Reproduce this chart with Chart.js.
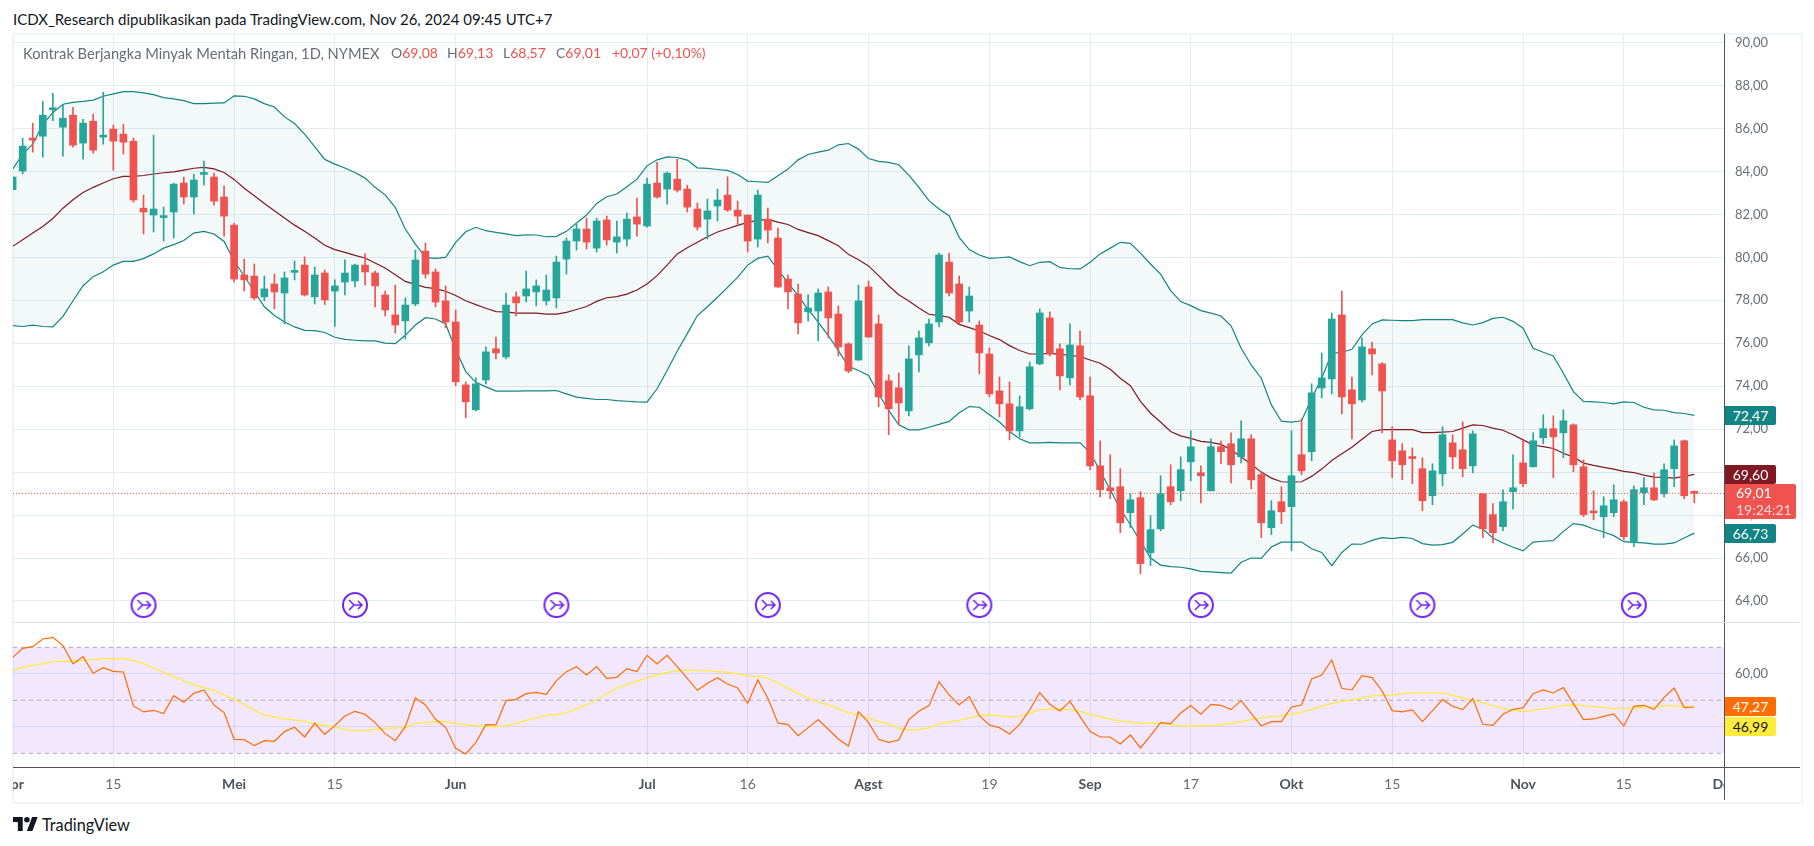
<!DOCTYPE html>
<html>
<head>
<meta charset="utf-8">
<title>Kontrak Berjangka Minyak Mentah Ringan</title>
<script src="https://cdn.jsdelivr.net/npm/chart.js@4"></script>
<style>
    html, body { margin: 0; background: #fff; }
    body { width: 1814px; height: 846px; position: relative; overflow: hidden; font-family: Lato, sans-serif; }
    canvas { position: absolute; display: block; }
    .frame { position: absolute; left: 12px; top: 33px; width: 1787px; height: 767px; border: 2px solid #f0f3fa; }
    .head { position: absolute; left: 13px; top: 10px; font-size: 15px; color: #131722; white-space: nowrap; }
    .leg { position: absolute; top: 44px; font-size: 14px; color: #6a6d78; white-space: nowrap; }
    .leg b { font-weight: normal; color: #ef5350; }
    .sep { position: absolute; left: 13px; top: 622px; width: 1787px; height: 1px; background: #e0e3eb; }
    .base { position: absolute; left: 13px; top: 767px; width: 1787px; height: 1px; background: #50535e; }
    .deCover { position: absolute; left: 1724px; top: 768px; width: 40px; height: 32px; background: #fff; border-left: 1px solid #50535e; }
    .badge { position: absolute; left: 1725px; width: 51px; height: 19px; line-height: 19px; font-size: 14px; text-align: center; color: #fff; border-radius: 0 2px 2px 0; }
    .logo { position: absolute; left: 13px; top: 817px; }
    .logoText { position: absolute; left: 42px; top: 815px; font-size: 16.3px; color: #131722; }
</style>
</head>
<body>
<div class="frame"></div>
<div class="head">ICDX_Research dipublikasikan pada TradingView.com, Nov 26, 2024 09:45 UTC+7</div>
<canvas id="priceChart" width="1788" height="588" style="left:13px;top:34px"></canvas>
<canvas id="rsiChart" width="1788" height="178" style="left:13px;top:622px"></canvas>
<div class="sep"></div>
<div class="base"></div>
<div class="deCover"></div>
<div class="leg" style="left:23px;font-size:14.7px;top:43.5px">Kontrak Berjangka Minyak Mentah Ringan, 1D, NYMEX</div>
<div class="leg" style="left:391px">O<b>69,08</b></div>
<div class="leg" style="left:447px">H<b>69,13</b></div>
<div class="leg" style="left:503px">L<b>68,57</b></div>
<div class="leg" style="left:556px">C<b>69,01</b></div>
<div class="leg" style="left:612px"><b>+0,07 (+0,10%)</b></div>
<svg class="logo" width="25" height="14" viewBox="0 0 36 20"><path fill="#131722" d="M14 20H7V7H0V0h14v20zM28 20h-8l7.5-20h8L28 20z"/><circle fill="#131722" cx="20" cy="4" r="4"/></svg>
<div class="logoText">TradingView</div>

<script>
const openPrices = [
    83.15,84.02,85.5,85.64,86.87,86.06,86.62,85.32,86.34,85.6,
    85.97,85.74,85.41,82.29,81.97,81.85,82.11,83.46,82.81,83.86,
    83.74,82.81,81.5,79.18,79.13,78.16,78.76,78.34,79.3,79.64,
    78.16,79.27,78.43,78.85,78.9,79.64,79.27,78.25,77.32,77.04,
    77.83,80.29,79.32,77.97,76.99,74.06,72.9,74.29,75.74,75.36,
    78.16,78.2,78.39,77.97,78.11,79.92,80.76,81.32,80.43,81.74,
    80.71,80.85,81.88,81.46,83.46,83.18,83.64,83.18,82.25,81.78,
    82.39,82.9,82.2,81.97,80.85,81.78,80.9,78.99,78.29,77.46,
    77.5,78.39,77.36,75.97,75.22,78.62,76.9,74.25,73.92,72.85,
    75.46,76.02,76.99,79.78,78.76,77.5,76.85,75.5,73.78,73.18,
    71.92,72.95,75.04,77.18,75.74,74.39,75.88,73.55,70.29,69.27,
    69.32,68.11,68.81,66.25,67.36,69.32,69.13,70.48,69.97,69.13,
    71.18,71.32,70.71,71.55,69.88,67.41,68.62,68.39,70.81,70.95,
    73.92,74.34,77.32,73.83,73.36,75.74,75.04,71.5,70.99,70.67,
    70.16,68.9,69.92,71.36,71.04,70.29,68.99,68.02,67.46,69.09,
    70.43,70.25,71.6,72.02,71.83,72.2,70.25,68.14,67.92,68.11,
    68.62,66.71,69.04,69.27,68.99,70.16,71.46,69.08
]
const closePrices = [
    83.74,85.18,85.46,86.62,86.93,86.48,85.22,86.25,84.99,85.68,
    85.41,85.36,82.67,82.11,82.25,81.88,83.41,82.81,83.6,83.9,
    82.62,81.92,78.99,78.95,78.11,78.53,78.39,79.04,79.33,78.25,
    79.18,78.02,78.67,79.27,79.64,79.32,78.67,77.55,76.85,77.78,
    79.88,79.22,77.92,76.99,74.2,73.27,74.11,75.6,75.55,77.78,
    77.88,78.53,78.67,78.48,79.78,80.76,81.32,80.71,81.69,80.81,
    80.95,81.78,81.55,83.41,82.81,83.92,83.13,82.34,81.41,82.16,
    82.67,82.2,81.92,80.76,82.9,81.27,78.62,78.39,76.95,77.64,
    78.34,77.18,75.83,74.71,77.97,76.29,73.5,72.95,73.22,75.27,
    76.25,76.9,80.11,78.34,76.99,78.2,75.55,73.64,73.18,71.92,
    73.04,74.9,77.41,75.5,74.48,75.92,73.5,70.29,69.18,69.13,
    67.64,68.71,65.74,67.32,68.99,68.62,70.11,71.18,69.83,71.18,
    70.95,70.34,71.55,69.64,67.64,68.2,68.15,69.83,70.06,73.69,
    74.39,77.13,73.5,73.18,75.83,75.5,73.78,70.53,70.34,70.63,
    68.67,70.06,71.74,70.71,70.16,71.78,67.36,67.18,68.62,69.27,
    69.46,71.46,72.02,71.64,72.39,70.34,68.02,68.1,68.43,68.71,
    66.99,69.18,69.27,68.71,70.11,71.22,68.9,69.01
]
const highPrices = [
    83.74,85.55,86.25,87.27,87.64,87.13,86.99,86.43,86.67,87.69,
    86.16,86.2,85.55,82.9,85.69,82.34,83.46,83.74,83.88,84.48,
    83.92,83.32,81.6,79.92,79.69,79.13,79.22,79.32,79.83,80.02,
    79.55,79.41,78.95,79.88,79.69,80.16,79.36,78.43,78.71,78.11,
    80.34,80.67,79.46,78.67,77.55,74.2,74.39,75.83,76.29,78.34,
    78.39,79.36,78.95,79.18,80.06,80.9,81.55,81.83,81.83,81.92,
    81.69,82.06,82.76,83.69,84.43,83.97,84.57,83.36,82.53,82.71,
    83.18,83.75,82.62,81.97,83.13,82.29,81.36,79.18,78.76,78.25,
    78.53,78.62,77.74,76.02,78.71,78.9,77.32,74.53,74.62,75.88,
    76.57,77.13,80.2,80.2,79.13,78.62,77.04,75.78,74.43,74.2,
    73.55,75.13,77.6,77.46,75.97,76.9,76.57,74.43,71.46,70.81,
    70.16,68.99,69.09,67.97,69.83,70.34,70.71,71.92,70.29,71.55,
    71.46,71.83,72.39,71.74,70.02,68.67,69.32,71.92,72.48,74.11,
    75.55,77.41,78.43,74.43,76.25,76.06,75.1,72.11,71.32,71.13,
    70.67,70.39,72.11,71.74,72.34,71.92,69.0,68.53,69.18,70.81,
    71.5,71.83,72.67,72.62,72.9,72.25,70.57,69.13,68.85,69.41,
    68.71,69.36,69.74,69.97,70.39,71.5,71.5,69.13
]
const lowPrices = [
    83.15,83.88,84.9,84.67,86.36,84.71,85.13,84.57,84.85,85.27,
    84.06,84.81,82.57,81.09,81.18,80.76,80.9,82.48,82.02,83.36,
    82.43,80.99,78.85,78.43,78.02,77.97,77.6,76.9,78.95,78.2,
    77.83,77.8,76.78,78.25,78.62,78.71,77.69,77.27,76.48,76.2,
    77.74,79.04,77.69,76.71,74.02,72.53,72.85,74.11,75.27,75.27,
    77.27,77.92,77.74,77.78,77.64,79.22,80.34,80.39,80.25,80.57,
    80.2,80.53,80.99,81.41,82.76,82.48,83.04,82.11,81.27,80.85,
    81.69,82.14,81.55,80.25,80.48,80.67,78.6,77.6,76.43,77.04,
    76.11,76.25,75.41,74.62,75.2,76.27,73.04,71.74,72.2,72.62,
    74.67,75.88,76.76,78.2,76.9,76.99,74.57,73.5,72.57,71.5,
    71.64,72.9,75.0,75.41,73.83,74.06,73.36,70.11,68.85,68.76,
    67.18,67.41,65.27,65.64,67.27,68.48,68.67,69.6,68.57,69.12,
    70.39,69.5,70.43,69.22,66.95,67.09,67.6,66.34,69.88,70.53,
    73.46,73.64,72.71,71.55,73.27,74.53,71.83,69.74,69.64,69.46,
    68.2,68.48,69.36,70.16,69.78,69.97,66.95,66.71,67.27,68.29,
    69.32,70.23,71.32,69.74,70.67,70.02,67.92,67.78,66.95,67.92,
    66.85,66.53,68.48,68.67,68.85,69.32,68.76,68.57
]
const bbUpper = [
    84.11,84.81,85.27,86.2,86.74,87.13,87.22,87.26,87.32,87.5,
    87.61,87.72,87.72,87.66,87.58,87.44,87.38,87.3,87.16,87.16,
    87.18,87.19,87.52,87.5,87.38,87.16,87.0,86.54,86.23,85.74,
    85.15,84.56,84.34,84.16,83.95,83.69,83.26,82.91,82.33,81.32,
    80.62,80.0,79.95,80.0,80.7,81.19,81.4,81.24,81.16,81.09,
    81.01,81.05,81.04,80.96,80.98,81.21,81.6,81.97,82.51,82.82,
    82.95,83.29,83.64,84.26,84.54,84.68,84.65,84.53,84.17,84.14,
    84.09,84.05,83.86,83.55,83.52,83.49,83.8,84.11,84.54,84.79,
    84.9,84.99,85.24,85.3,85.04,84.6,84.47,84.42,84.31,83.83,
    83.26,82.64,82.25,81.94,80.93,80.36,80.11,79.95,79.98,80.02,
    79.8,79.61,79.77,79.8,79.53,79.47,79.46,79.77,80.16,80.43,
    80.7,80.65,80.2,79.69,79.22,78.45,77.94,77.75,77.52,77.4,
    77.27,76.81,75.77,74.99,74.37,73.13,72.37,72.33,72.39,73.44,
    74.37,75.53,75.58,75.72,76.39,76.9,77.09,77.07,77.05,77.05,
    77.1,77.1,77.1,77.1,76.95,76.85,76.96,77.16,77.21,77.02,
    76.7,75.77,75.58,75.41,74.6,73.75,73.29,73.27,73.24,73.18,
    73.27,73.24,73.02,72.9,72.88,72.77,72.73,72.64
]
const bbBasis = [
    80.51,80.82,81.13,81.44,81.81,82.29,82.68,83.02,83.26,83.46,
    83.66,83.77,83.77,83.81,83.88,83.94,83.98,84.06,84.15,84.19,
    84.12,83.95,83.63,83.22,82.87,82.51,82.17,81.83,81.5,81.21,
    80.9,80.56,80.36,80.23,80.09,79.97,79.74,79.5,79.19,78.88,
    78.74,78.6,78.54,78.42,78.22,77.98,77.8,77.63,77.47,77.46,
    77.4,77.4,77.4,77.36,77.36,77.44,77.57,77.71,77.95,78.12,
    78.17,78.29,78.48,78.76,79.15,79.64,80.16,80.45,80.7,80.96,
    81.18,81.33,81.49,81.63,81.72,81.77,81.64,81.53,81.3,81.15,
    81.01,80.78,80.54,80.14,79.89,79.6,79.15,78.68,78.26,77.97,
    77.64,77.35,77.29,77.21,76.88,76.73,76.57,76.36,76.17,75.89,
    75.66,75.5,75.5,75.53,75.49,75.43,75.38,75.22,75.07,74.79,
    74.37,74.02,73.29,72.74,72.33,71.89,71.69,71.57,71.43,71.38,
    71.29,71.04,70.7,70.37,70.0,69.72,69.55,69.53,69.55,69.8,
    70.14,70.54,70.85,71.16,71.53,71.89,71.98,71.98,71.98,71.98,
    71.84,71.84,71.86,71.89,72.05,72.2,72.17,72.05,71.95,71.74,
    71.5,71.26,71.19,71.1,70.88,70.7,70.42,70.31,70.22,70.14,
    70.03,69.98,69.86,69.77,69.75,69.72,69.8,69.89
]
const bbLower = [
    76.82,76.78,76.84,76.78,76.76,77.25,77.98,78.68,79.1,79.33,
    79.64,79.81,79.81,79.94,80.16,80.43,80.59,80.78,81.13,81.21,
    81.09,80.74,79.84,79.12,78.42,77.7,77.29,76.99,76.76,76.6,
    76.59,76.5,76.28,76.18,76.14,76.11,76.11,76.01,75.98,76.37,
    76.85,77.19,77.13,76.9,75.7,74.68,74.18,73.97,73.77,73.77,
    73.77,73.78,73.78,73.78,73.8,73.64,73.49,73.43,73.38,73.38,
    73.33,73.3,73.27,73.26,73.88,74.73,75.63,76.45,77.29,77.7,
    78.14,78.6,79.07,79.64,79.95,80.06,79.43,78.81,78.22,77.57,
    76.98,76.36,75.66,74.93,74.73,74.5,73.64,72.87,72.2,71.97,
    71.97,72.09,72.22,72.36,72.76,73.05,73.02,72.67,72.33,71.89,
    71.55,71.36,71.36,71.38,71.36,71.36,71.36,70.91,70.05,69.18,
    68.28,67.55,66.78,66.0,65.67,65.6,65.57,65.49,65.38,65.35,
    65.32,65.3,65.8,66.0,65.98,66.51,66.74,66.74,66.74,66.43,
    66.26,65.64,66.26,66.65,66.64,66.82,66.95,66.9,66.96,66.91,
    66.67,66.6,66.62,66.73,67.12,67.53,67.35,66.93,66.7,66.5,
    66.33,66.74,66.78,66.81,67.24,67.6,67.53,67.35,67.21,67.04,
    66.76,66.73,66.7,66.65,66.65,66.7,66.93,67.16
]
const rsiValues = [
    66.1,69.62,70.25,73.14,73.77,70.63,63.71,66.48,60.19,62.33,
    60.94,60.69,47.86,45.6,46.23,44.97,51.76,49.25,52.64,53.9,
    48.24,45.35,35.28,35.16,32.89,34.78,34.53,38.18,39.81,36.16,
    41.32,37.17,40.44,44.09,45.85,44.72,41.57,37.42,34.78,40.06,
    50.88,48.24,42.83,39.81,31.89,29.75,34.03,40.82,40.69,49.87,
    50.38,52.52,53.02,52.26,57.42,60.82,62.7,59.56,62.7,58.3,
    58.68,61.95,60.82,66.98,63.71,66.98,62.7,58.3,53.77,56.42,
    58.55,56.16,54.65,48.87,57.67,50.75,41.45,40.82,36.67,39.69,
    42.7,39.06,35.41,32.77,45.72,41.57,35.28,34.15,35.03,42.7,
    45.85,47.99,57.04,52.01,48.24,51.38,44.21,40.69,39.69,37.3,
    40.94,46.35,52.89,48.49,45.97,49.62,43.84,38.18,36.16,36.16,
    33.52,36.92,32.01,36.67,41.57,41.19,45.22,47.99,44.72,48.49,
    48.11,46.48,49.87,45.09,40.31,41.95,41.95,47.48,48.24,58.05,
    59.56,65.22,54.53,53.9,59.31,58.55,53.52,46.1,45.6,46.35,
    41.95,46.1,50.25,47.74,46.48,50.63,40.94,40.57,44.72,46.6,
    47.11,52.52,53.9,52.77,54.78,48.74,42.7,42.96,43.96,44.84,
    40.31,47.74,48.11,46.6,51.13,54.65,47.23,47.48
]
const rsiMa = [
    61.07,62.45,63.21,63.84,64.59,64.72,64.84,65.09,65.35,65.72,
    65.72,65.72,64.97,63.84,62.2,60.57,58.93,57.3,55.79,54.78,
    53.77,52.01,50.38,48.36,46.35,44.47,43.71,42.96,42.58,42.08,
    41.32,40.57,40.06,38.93,38.68,38.68,39.06,39.43,39.56,39.69,
    41.07,41.7,41.82,41.95,41.32,40.82,40.44,40.06,40.06,40.31,
    41.32,42.45,43.33,44.34,44.59,45.35,46.73,48.24,50.13,52.39,
    54.65,55.91,57.17,58.55,59.56,60.57,61.07,61.45,61.19,61.07,
    60.82,60.57,59.94,59.18,58.93,58.3,56.54,54.53,52.64,50.88,
    49.37,48.24,46.86,45.22,44.47,43.33,42.08,41.07,39.56,38.68,
    39.06,39.56,41.07,41.82,42.45,43.33,44.21,44.47,44.09,43.84,
    43.96,45.09,46.35,46.6,46.73,46.35,45.85,44.72,43.84,42.83,
    42.2,41.82,41.32,41.32,41.32,40.82,40.44,40.31,40.31,40.44,
    40.69,41.32,42.08,42.7,43.33,43.71,44.09,44.84,45.47,46.6,
    47.74,48.87,49.62,50.13,50.88,51.64,51.89,52.01,52.39,52.77,
    52.77,52.77,52.77,51.89,51.01,50.0,49.12,47.99,46.98,46.23,
    45.72,46.23,46.73,47.23,48.11,48.36,47.86,47.61,47.36,46.98,
    46.98,46.98,47.48,47.61,47.86,47.99,47.61,47.48
]

const tickIndex = [0,10,22,32,44,63,73,85,97,107,117,127,137,150,160,170]
const tickLabels = ['Apr','15','Mei','15','Jun','Jul','16','Agst','19','Sep','17','Okt','15','Nov','15','Des']
const monthTicks = ['Apr','Mei','Jun','Jul','Agst','Sep','Okt','Nov','Des']
const priceTicks = [90,88,86,84,82,80,78,76,74,72,70,68,66,64]
const rsiTicks = [60,40]
const rsiLevels = [70,50,30]
const rollIndex = [13,34,54,75,96,118,140,161]
const rollLevel = 63.81

const minX = 0.04
const maxX = 169.95
const upColor = '#26a69a'
const downColor = '#ef5350'
const gridColor = '#e4ecf2'
const bandLine = '#138484'
const axisText = '#6a6d78'
const axisBorder = '#50535e'
const fontName = 'Lato'

Chart.defaults.font.family = fontName
Chart.defaults.animation = false

const comma = (v)=> Number(v).toFixed(2).replace('.', ',')
const series = (values)=> values.map((v, i)=> ({x: i, y: v}))
const flatLine = (v)=> [{x: minX, y: v}, {x: maxX, y: v}]
const noPadding = (s)=>{
    s.paddingTop = 0
    s.paddingBottom = 0
    s.paddingLeft = 0
    s.paddingRight = 0
}

const xAxis = (withLabels)=> ({
    type: 'linear',
    min: minX,
    max: maxX,
    offset: false,
    grid: {color: gridColor, drawTicks: false, offset: false},
    border: {display: false},
    afterBuildTicks: (s)=>{ s.ticks = tickIndex.map((v)=> ({value: v})) },
    afterFit: (s)=>{
        s.height = withLabels ? 33 : 0
        noPadding(s)
    },
    ticks: {
        display: withLabels,
        autoSkip: false,
        maxRotation: 0,
        padding: 9,
        color: (c)=> monthTicks.includes(tickLabels[c.index]) ? '#50535e' : axisText,
        font: (c)=> ({size: 14, weight: monthTicks.includes(tickLabels[c.index]) ? 'bold' : 'normal'}),
        callback: (v)=> tickLabels[tickIndex.indexOf(v)]
    }
})

const yAxis = (lo, hi, values)=> ({
    position: 'right',
    min: lo,
    max: hi,
    grid: {color: gridColor, drawTicks: false},
    border: {color: axisBorder, width: 1},
    afterBuildTicks: (s)=>{ s.ticks = values.map((v)=> ({value: v})) },
    afterFit: (s)=>{
        s.width = 77
        noPadding(s)
    },
    ticks: {autoSkip: false, padding: 11, color: axisText, font: {size: 13}, callback: (v)=> comma(v)}
})

// arrow marker for the contract roll events
const rollMarker = document.createElement('canvas')
rollMarker.width = 28
rollMarker.height = 28
let mk = rollMarker.getContext('2d')
mk.strokeStyle = '#7022f5'
mk.lineWidth = 2
mk.beginPath()
mk.arc(14, 14, 12, 0, Math.PI * 2)
mk.stroke()
mk.lineWidth = 1.6
mk.beginPath()
mk.moveTo(8, 9)
mk.lineTo(13, 14)
mk.lineTo(21, 14)
mk.moveTo(17, 10)
mk.lineTo(21, 14)
mk.lineTo(17, 18)
mk.moveTo(13, 14)
mk.lineTo(8, 19)
mk.stroke()

// a point dataset would pad the layout, so the markers go through the scales here
const rollPlugin = {
    id: 'rollMarkers',
    afterDatasetsDraw: (chart)=>{
        rollIndex.forEach((i)=>{
            let px = chart.scales.x.getPixelForValue(i)
            let py = chart.scales.y.getPixelForValue(rollLevel)
            chart.ctx.drawImage(rollMarker, px - 14, py - 14)
        })
    }
}

const bandLineSet = (label, values, color, order)=> ({
    type: 'line', label, data: series(values), borderColor: color, borderWidth: 1.2,
    pointRadius: 0, tension: 0, order, fill: false
})

let priceChart = new Chart(document.getElementById('priceChart'), {
    type: 'bar',
    data: {
        datasets: [
            Object.assign(bandLineSet('BB upper', bbUpper, bandLine, 5), {
                fill: {target: 2}, backgroundColor: 'rgba(19,132,132,0.05)'
            }),
            bandLineSet('BB basis', bbBasis, '#801922', 4),
            bandLineSet('BB lower', bbLower, bandLine, 5),
            {
                type: 'line', label: 'Last', data: flatLine(closePrices[closePrices.length - 1]),
                borderColor: downColor, borderWidth: 1, borderDash: [1, 2], pointRadius: 0, order: 0
            },
            {
                label: 'Wick', grouped: false, barThickness: 1, order: 2,
                data: lowPrices.map((l, i)=> ({x: i, y: [l, highPrices[i]]})),
                backgroundColor: openPrices.map((o, i)=> closePrices[i] >= o ? upColor : downColor)
            },
            {
                label: 'Body', grouped: false, barThickness: 7, minBarLength: 2, order: 1,
                data: openPrices.map((o, i)=> ({x: i, y: [o, closePrices[i]]})),
                backgroundColor: openPrices.map((o, i)=> closePrices[i] >= o ? upColor : downColor)
            }
        ]
    },
    plugins: [rollPlugin],
    options: {
        responsive: false,
        animation: false,
        layout: {padding: 0},
        plugins: {legend: {display: false}, tooltip: {enabled: false}},
        scales: {x: xAxis(false), y: yAxis(63.02, 90.4, priceTicks)}
    }
})

let rsiChart = new Chart(document.getElementById('rsiChart'), {
    type: 'line',
    data: {
        datasets: [
            {
                label: 'Top', data: flatLine(rsiLevels[0]), borderColor: '#b2a9ba', borderWidth: 1,
                borderDash: [4, 4], pointRadius: 0, order: 5, fill: {target: 2},
                backgroundColor: 'rgba(135,15,235,0.1)'
            },
            {label: 'Mid', data: flatLine(rsiLevels[1]), borderColor: '#b2a9ba', borderWidth: 1, borderDash: [4, 4], pointRadius: 0, order: 4},
            {label: 'Low', data: flatLine(rsiLevels[2]), borderColor: '#b2a9ba', borderWidth: 1, borderDash: [4, 4], pointRadius: 0, order: 4},
            {label: 'RSI MA', data: series(rsiMa), borderColor: '#ffeb3b', borderWidth: 1.3, pointRadius: 0, tension: 0, order: 2},
            {label: 'RSI', data: series(rsiValues), borderColor: '#ff6d00', borderWidth: 1.2, pointRadius: 0, tension: 0, order: 1}
        ]
    },
    options: {
        responsive: false,
        animation: false,
        layout: {padding: 0},
        plugins: {legend: {display: false}, tooltip: {enabled: false}},
        scales: {x: xAxis(true), y: yAxis(24.83, 79.55, rsiTicks)}
    }
})

// value badges on the price axis, placed from the scales
const addBadge = (chart, canvasTop, value, text, bg, fg, shift)=>{
    let el = document.createElement('div')
    el.className = 'badge'
    el.style.background = bg
    el.style.color = fg
    el.style.top = (canvasTop + chart.scales.y.getPixelForValue(value) - 9.5 + shift) + 'px'
    el.innerHTML = text
    document.body.appendChild(el)
    return el
}

addBadge(priceChart, 34, bbUpper[167], '72,47', '#138484', '#fff', 0)
addBadge(priceChart, 34, bbBasis[167], '69,60', '#801922', '#fff', 0)
addBadge(priceChart, 34, bbLower[167], '66,73', '#138484', '#fff', 0)
let lastBadge = addBadge(priceChart, 34, closePrices[167], '69,01<br><span style="color:#ffd6d5">19:24:21</span>', '#ef5350', '#fff', 0)
lastBadge.style.width = '60px'
lastBadge.style.paddingLeft = '11px'
lastBadge.style.textAlign = 'left'
lastBadge.style.height = '35px'
lastBadge.style.lineHeight = '17.5px'
addBadge(rsiChart, 622, rsiValues[167], '47,27', '#ff6d00', '#fff', 0)
addBadge(rsiChart, 622, rsiMa[167], '46,99', '#ffeb3b', '#131722', 20)
</script>
</body>
</html>
